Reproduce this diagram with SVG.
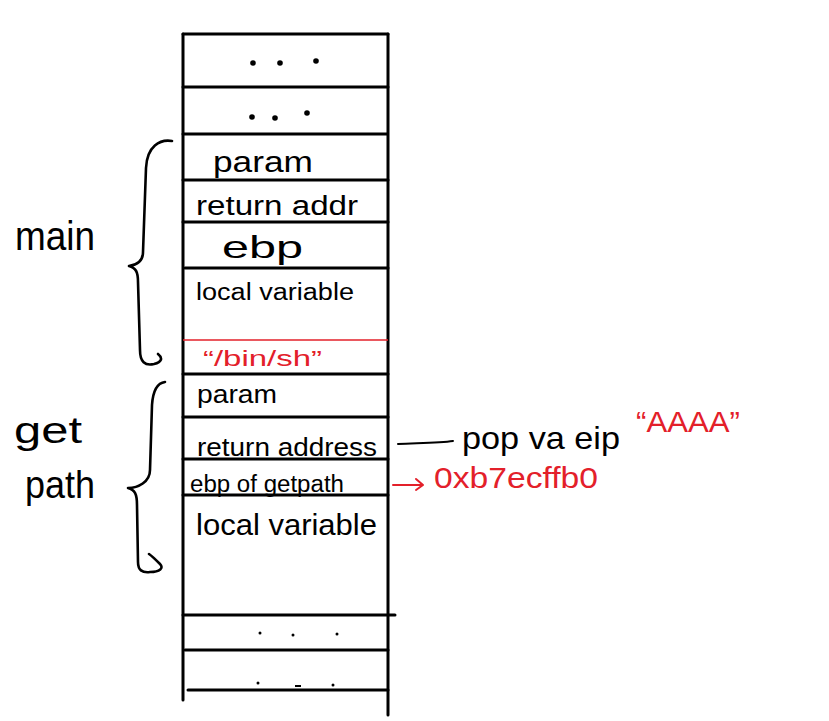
<svg xmlns="http://www.w3.org/2000/svg" width="829" height="721" viewBox="0 0 829 721">
<style>
.ln{stroke:#000;stroke-width:3;fill:none;stroke-linecap:round}
.rl{stroke:#e3202a;stroke-width:1.6;fill:none}
.br{stroke:#000;stroke-width:2.6;fill:none;stroke-linecap:round;stroke-linejoin:round}
.t{font-family:"Liberation Sans",Arial,sans-serif;fill:#000}
.r{fill:#e3202a}
.dot{fill:#000}
</style>
<rect width="829" height="721" fill="#fff"/>
<g id="stack">
  <line class="ln" x1="183" y1="34" x2="183" y2="700"/>
  <line class="ln" x1="388" y1="34" x2="388" y2="715"/>
</g>
<g id="cell-dots1">
  <line class="ln" x1="183" y1="34" x2="388" y2="34"/>
  <circle class="dot" cx="253" cy="63" r="2.8"/><circle class="dot" cx="280" cy="63" r="2.8"/><circle class="dot" cx="316" cy="61" r="2.8"/>
</g>
<g id="cell-dots2">
  <line class="ln" x1="183" y1="87" x2="388" y2="87"/>
  <circle class="dot" cx="252" cy="117" r="2.8"/><circle class="dot" cx="275" cy="118" r="2.8"/><circle class="dot" cx="307" cy="113" r="2.8"/>
</g>
<g id="cell-main-param">
  <line class="ln" x1="183" y1="134" x2="387" y2="134"/>
  <text class="t" x="213" y="172" font-size="30" textLength="100" lengthAdjust="spacingAndGlyphs">param</text>
</g>
<g id="cell-main-ret">
  <line class="ln" x1="183" y1="180" x2="388" y2="180"/>
  <text class="t" x="196" y="215" font-size="27" textLength="162" lengthAdjust="spacingAndGlyphs">return addr</text>
</g>
<g id="cell-main-ebp">
  <line class="ln" x1="183" y1="222" x2="388" y2="222"/>
  <text class="t" x="222" y="258" font-size="32" textLength="81" lengthAdjust="spacingAndGlyphs">ebp</text>
</g>
<g id="cell-main-local">
  <line class="ln" x1="185" y1="268" x2="388" y2="268"/>
  <text class="t" x="196" y="300" font-size="23" textLength="158" lengthAdjust="spacingAndGlyphs">local variable</text>
</g>
<g id="cell-binsh">
  <line class="rl" x1="183" y1="340" x2="388" y2="340"/>
  <text class="t r" x="203" y="366" font-size="22" textLength="119" lengthAdjust="spacingAndGlyphs">“/bin/sh”</text>
</g>
<g id="cell-gp-param">
  <line class="ln" x1="183" y1="374" x2="388" y2="374"/>
  <text class="t" x="197" y="403" font-size="25" textLength="80" lengthAdjust="spacingAndGlyphs">param</text>
</g>
<g id="cell-gp-ret">
  <line class="ln" x1="183" y1="417" x2="388" y2="417"/>
  <text class="t" x="197" y="456" font-size="25" textLength="180" lengthAdjust="spacingAndGlyphs">return address</text>
</g>
<g id="cell-gp-ebp">
  <line class="ln" x1="183" y1="459" x2="388" y2="459"/>
  <text class="t" x="190" y="492" font-size="23" textLength="154" lengthAdjust="spacingAndGlyphs">ebp of getpath</text>
</g>
<g id="cell-gp-local">
  <line class="ln" x1="183" y1="495" x2="388" y2="495"/>
  <text class="t" x="196" y="535" font-size="30" textLength="181" lengthAdjust="spacingAndGlyphs">local variable</text>
</g>
<g id="cell-dots3">
  <line class="ln" x1="183" y1="615" x2="395" y2="615"/>
  <circle class="dot" cx="260" cy="633" r="1.5"/><circle class="dot" cx="293" cy="635" r="1.5"/><circle class="dot" cx="337" cy="634" r="1.5"/>
</g>
<g id="cell-dots4">
  <line class="ln" x1="185" y1="650" x2="388" y2="650"/>
  <circle class="dot" cx="258" cy="683" r="1.5"/><rect class="dot" x="295" y="685" width="6" height="2"/><circle class="dot" cx="333" cy="685" r="1.5"/>
  <line class="ln" x1="188" y1="690" x2="388" y2="690"/>
</g>
<g id="brace-main">
  <path class="br" d="M172,141 C160,139 147,146 146,168 L143,252 C143,261 137,265 129,266 C136,268 138,272 138,282 L140,350 C140,362 145,366 154,364 C162,362 163,358 158,354"/>
  <text class="t" x="15" y="250" font-size="40" textLength="80" lengthAdjust="spacingAndGlyphs">main</text>
</g>
<g id="brace-getpath">
  <path class="br" d="M165,382 C157,383 153,390 152,405 L150,470 C150,482 138,488 128,488 C135,490 137,494 137,505 L138,562 C138,570 142,573 150,572 C160,572 164,568 160,564 C156,560 152,556 149,554"/>
  <text class="t" x="14" y="443" font-size="36" textLength="68" lengthAdjust="spacingAndGlyphs">get</text>
  <text class="t" x="25" y="498" font-size="38" textLength="70" lengthAdjust="spacingAndGlyphs">path</text>
</g>
<g id="note-pop">
  <text class="t" x="462" y="449" font-size="32" textLength="158" lengthAdjust="spacingAndGlyphs">pop va eip</text>
  <text class="t r" x="636" y="432" font-size="30" textLength="104" lengthAdjust="spacingAndGlyphs">“AAAA”</text>
</g>
<g id="note-addr">
  <text class="t r" x="434" y="488" font-size="30" textLength="164" lengthAdjust="spacingAndGlyphs">0xb7ecffb0</text>
</g>
<g id="connectors">
  <path d="M398,444 C420,443 440,443 453,441" stroke="#000" stroke-width="2" fill="none" stroke-linecap="round"/>
  <path d="M393,485 L423,485 M416,479 L423,485 L416,490" stroke="#e3202a" stroke-width="2" fill="none" stroke-linecap="round" stroke-linejoin="round"/>
</g>
</svg>
